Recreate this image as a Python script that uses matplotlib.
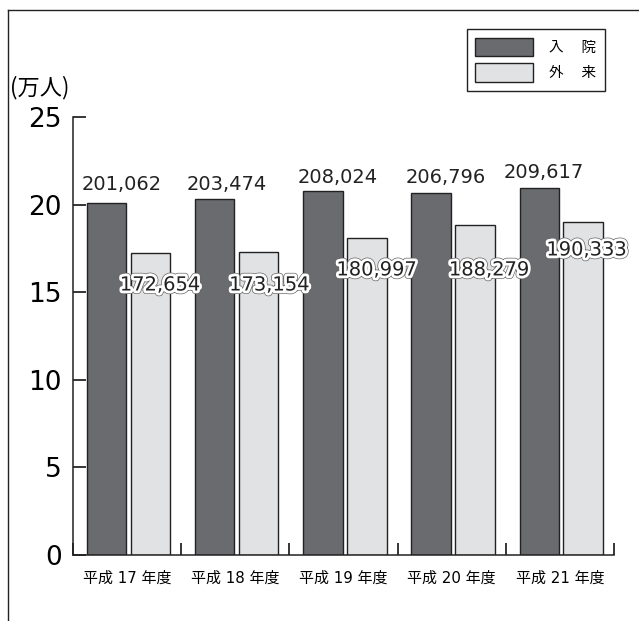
import matplotlib
matplotlib.use('Agg')
from matplotlib import pyplot as plt
from matplotlib.patches import Patch
from matplotlib.lines import Line2D
import matplotlib.patheffects as pe
import numpy as np

plt.rcParams['font.family'] = ['DejaVu Sans', 'Noto Sans CJK JP']

# ข้อมูล (คน) -> แสดงเป็นหน่วย 万人
years = ['平成 17 年度', '平成 18 年度', '平成 19 年度', '平成 20 年度', '平成 21 年度']
inpatient = [201062, 203474, 208024, 206796, 209617]   # 入院
outpatient = [172654, 173154, 180997, 188279, 190333]  # 外来
series_names = ['入\u3000 院', '外\u3000 来']

# ตำแหน่งป้ายตัวเลข (หน่วยแกน y) อ่านจากภาพ
in_label_y = [21.12, 21.12, 21.52, 21.52, 21.86]
in_label_dx = [0.14, 0.11, 0.14, 0.13, 0.04]
out_label_y = [15.41, 15.41, 16.27, 16.27, 17.41]
out_label_dx = [0.09, 0.10, 0.09, 0.13, 0.03]

dark = '#6a6b6f'
light = '#e1e2e4'
edge = '#222222'

fig = plt.figure(figsize=(6.39, 6.21), dpi=100)
ax = fig.add_axes([0.1142, 0.1063, 0.961 - 0.1142, 0.8116 - 0.1063])

x = np.arange(len(years))
w = 0.365
in_val = np.array(inpatient) / 10000
out_val = np.array(outpatient) / 10000

ax.bar(x + 0.31, in_val, w, color=dark, edgecolor=edge, linewidth=1.0)
ax.bar(x + 0.715, out_val, w, color=light, edgecolor=edge, linewidth=1.0)

# ป้ายตัวเลข
for i in range(len(years)):
    ax.text(x[i] + 0.31 + in_label_dx[i], in_label_y[i], f'{inpatient[i]:,}',
            ha='center', va='center', fontsize=14, color='#222')
    ax.text(x[i] + 0.715 + out_label_dx[i], out_label_y[i], f'{outpatient[i]:,}',
            ha='center', va='center', fontsize=14, color='#222',
            path_effects=[pe.Stroke(linewidth=5, foreground='#666'),
                          pe.Stroke(linewidth=4, foreground='white'),
                          pe.Normal()])

ax.set_xlim(0, 5)
ax.set_ylim(0, 25)
ax.set_yticks([0, 5, 10, 15, 20, 25])
ax.tick_params(axis='y', direction='in', length=9, width=1.1, labelsize=19, pad=8)

# tick ที่ขอบกลุ่ม + label ตรงกลางกลุ่ม
ax.set_xticks(np.arange(0, 6))
ax.set_xticklabels([])
ax.set_xticks(x + 0.5, minor=True)
ax.set_xticklabels(years, minor=True, fontsize=10.8)
ax.tick_params(axis='x', which='major', direction='in', length=9, width=1.1)
ax.tick_params(axis='x', which='minor', length=0, pad=11)

for s in ['top', 'right']:
    ax.spines[s].set_visible(False)
for s in ['left', 'bottom']:
    ax.spines[s].set_linewidth(1.1)
    ax.spines[s].set_color('#222')

fig.text(10 / 639, 1 - 88 / 621, '(万人)', ha='left', va='center', fontsize=16,
         family=['Noto Sans CJK JP'])

# legend
handles = [Patch(facecolor=dark, edgecolor=edge, linewidth=1.0),
           Patch(facecolor=light, edgecolor=edge, linewidth=1.0)]
leg = fig.legend(handles, series_names, loc='upper right',
                 bbox_to_anchor=(605 / 639, 1 - 29 / 621), fancybox=False,
                 edgecolor='#222', framealpha=1, handlelength=3.95,
                 handleheight=1.6, labelspacing=0.45, handletextpad=1.1,
                 borderpad=0.6, borderaxespad=0,
                 prop={'family': ['Noto Sans CJK JP'], 'size': 10.5})
leg.get_frame().set_linewidth(1.0)

# กรอบด้านบนและด้านซ้าย
fig.add_artist(Line2D([8 / 639, 1], [1 - 10 / 621, 1 - 10 / 621], color='#222', linewidth=1.0))
fig.add_artist(Line2D([8 / 639, 8 / 639], [0, 1 - 10 / 621], color='#222', linewidth=1.0))

plt.savefig('out.png', dpi=100)
